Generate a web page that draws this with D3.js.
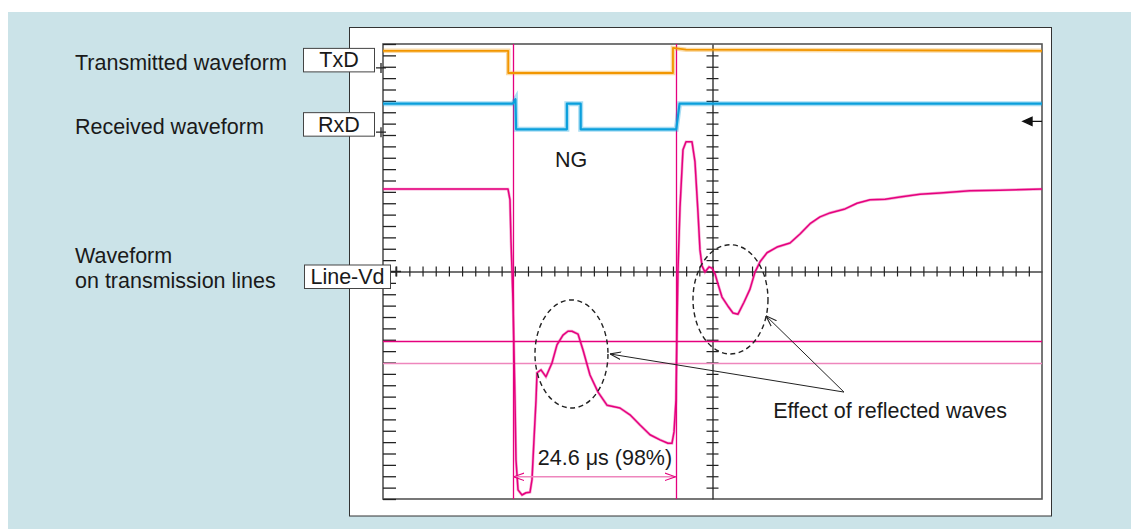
<!DOCTYPE html>
<html>
<head>
<meta charset="utf-8">
<script src="https://cdn.jsdelivr.net/npm/d3@7"></script>
<style>
  body { margin: 0; background: #fff; }
  svg { display: block; }
  .lbl { font-family: 'Liberation Sans', Arial, Helvetica, sans-serif; font-size: 21.5px; fill: #1a1a1a; }
</style>
</head>
<body>
<div id="scope"></div>
<script>
'use strict';

//DATA=======================================================
//time in microseconds (10 us / div), level in divisions from the centre line
let txdPoints = [[0, 3.88], [19.0, 3.88], [19.0, 3.49], [44.0, 3.49], [44.0, 3.93], [46.0, 3.90], [100, 3.88]];
let rxdPoints = [[0, 2.95], [19.7, 2.95], [20.1, 3.03], [20.2, 2.50], [27.9, 2.50], [27.9, 2.95], [30.0, 2.95],
  [30.0, 2.50], [44.5, 2.50], [45.0, 2.95], [100, 2.95]];
let lineVdPoints = [
  [0, 1.45], [18.97, 1.45], [19.27, 1.26], [19.42, 0.55], [19.58, 0.01], [19.73, -0.54], [20.03, -2.26],
  [20.18, -3.31], [20.49, -3.84], [21.09, -3.93], [21.70, -3.89], [22.31, -3.88], [22.61, -3.66],
  [22.91, -2.96], [23.22, -2.26], [23.37, -1.78], [23.98, -1.73], [24.73, -1.85], [25.64, -1.61],
  [26.40, -1.29], [27.31, -1.12], [28.07, -1.05], [28.68, -1.05], [29.59, -1.10], [30.35, -1.38],
  [31.41, -1.82], [32.63, -2.12], [33.99, -2.35], [35.96, -2.40], [37.48, -2.52], [39.00, -2.70],
  [40.52, -2.87], [42.03, -2.96], [43.25, -3.02], [43.85, -3.02], [44.16, -2.82], [44.46, -2.26],
  [44.61, -1.03], [44.76, 0.01], [45.07, 1.13], [45.52, 2.14], [45.98, 2.28], [46.89, 2.28],
  [47.34, 1.93], [47.80, 1.03], [48.10, 0.38], [48.41, 0.10], [48.86, -0.01], [49.47, 0.08],
  [49.92, 0.06], [50.38, -0.04], [50.83, -0.22], [51.44, -0.45], [52.35, -0.61], [53.11, -0.73],
  [53.87, -0.75], [54.78, -0.54], [55.69, -0.31], [56.45, -0.01], [57.21, 0.17], [58.27, 0.33],
  [59.79, 0.43], [61.76, 0.50], [63.28, 0.66], [64.80, 0.84], [66.31, 0.96], [67.83, 1.03],
  [70.11, 1.10], [71.93, 1.20], [73.90, 1.26], [76.18, 1.27], [78.45, 1.31], [81.49, 1.36],
  [84.52, 1.38], [89.07, 1.42], [93.63, 1.43], [100, 1.45]
];
let groundLevels = [3.58, 2.45, 0];          //TxD, RxD, Line-Vd "+" markers
let channelNames = ['TxD', 'RxD', 'Line-Vd'];
let timeCursors = [19.8, 44.4];              //24.6 us apart
let levelCursors = [-1.22, -1.61];
let triggerLevel = 2.64;
//reflected-wave ellipses: centre time, centre level, half width (us), half height (div)
let ellipses = [[28.6, -1.45, 5.54, 0.95], [52.73, -0.49, 5.69, 0.96]];
let calloutFrom = [69.95, -2.12];
let calloutTo = [[34.45, -1.45], [58.12, -0.78]];
let timeTicks = d3.range(0, 100.01, 2);
let levelTicks = d3.range(-4, 4.01, 0.2);
//DATA=======================================================

let width = 1131;
let height = 529;
let plot = { left: 383, top: 44, right: 1042, bottom: 499 };

let svg = d3.select('#scope').append('svg')
  .attr('width', width)
  .attr('height', height);

//background + white panel
svg.append('rect').attr('x', 8).attr('y', 12).attr('width', width - 8).attr('height', height - 12).attr('fill', '#cbe3e8');
svg.append('rect').attr('x', 349.5).attr('y', 27.5).attr('width', 702).attr('height', 488.5)
  .attr('fill', '#fff').attr('stroke', '#333').attr('stroke-width', 1);

let x = d3.scaleLinear().domain([0, 100]).range([plot.left, plot.right]);
let y = d3.scaleLinear().domain([-4, 4]).range([plot.bottom, plot.top]);

let defs = svg.append('defs');
function openArrow(id, color) {
  defs.append('marker')
    .attr('id', id)
    .attr('viewBox', '0 0 10 10')
    .attr('refX', 10).attr('refY', 5)
    .attr('markerUnits', 'userSpaceOnUse')
    .attr('markerWidth', 11).attr('markerHeight', 11)
    .attr('orient', 'auto-start-reverse')
    .append('path')
    .attr('d', 'M0,1.5 L10,5 L0,8.5')
    .attr('fill', 'none')
    .attr('stroke', color)
    .attr('stroke-width', 1);
}
openArrow('arrBlack', '#222');
openArrow('arrPink', '#e5007e');

//GRATICULE==================================================
svg.append('rect')
  .attr('x', plot.left).attr('y', plot.top)
  .attr('width', plot.right - plot.left).attr('height', plot.bottom - plot.top)
  .attr('fill', 'none').attr('stroke', '#555').attr('stroke-width', 1.6);

//left edge ticks
let leftAxis = d3.axisRight(y).tickValues(levelTicks).tickSize(13).tickSizeOuter(0).tickFormat('');
svg.append('g').attr('transform', `translate(${plot.left},0)`).call(leftAxis)
  .call(g => g.select('.domain').remove())
  .call(g => g.selectAll('line').attr('stroke', '#222').attr('stroke-width', 1.3));

//centre horizontal axis
let hAxis = d3.axisBottom(x).tickValues(timeTicks.slice(1, -1)).tickSize(5).tickSizeOuter(0).tickFormat('');
svg.append('g').attr('transform', `translate(0,${y(0)})`).call(hAxis)
  .call(g => g.select('.domain').attr('stroke', '#444').attr('stroke-width', 1.6))
  .call(g => g.selectAll('line').attr('y1', -5).attr('stroke', '#222').attr('stroke-width', 1.2));

//centre vertical axis
let vAxis = d3.axisRight(y).tickValues(levelTicks.slice(1, -1)).tickSize(6).tickSizeOuter(0).tickFormat('');
svg.append('g').attr('transform', `translate(${x(50)},0)`).call(vAxis)
  .call(g => g.select('.domain').attr('stroke', '#333').attr('stroke-width', 1.4))
  .call(g => g.selectAll('line').attr('x1', -6).attr('stroke', '#222').attr('stroke-width', 1.2));
//GRATICULE==================================================

//CURSORS====================================================
svg.selectAll('.tCursor').data(timeCursors).enter().append('line')
  .attr('class', 'tCursor')
  .attr('x1', d => Math.round(x(d)) + 0.5).attr('x2', d => Math.round(x(d)) + 0.5)
  .attr('y1', plot.top).attr('y2', plot.bottom)
  .attr('stroke', '#e5007e').attr('stroke-width', 1.3);

svg.selectAll('.lCursor').data(levelCursors).enter().append('line')
  .attr('class', 'lCursor')
  .attr('x1', plot.left).attr('x2', plot.right)
  .attr('y1', d => Math.round(y(d)) + 0.5).attr('y2', d => Math.round(y(d)) + 0.5)
  .attr('stroke', (d, i) => i === 0 ? '#e5007e' : '#ee86bd').attr('stroke-width', 1.3);
//CURSORS====================================================

//TRACES=====================================================
let line = d3.line().x(d => x(d[0])).y(d => y(d[1]));

function trace(points, color, fuzz, w) {
  svg.append('path').datum(points).attr('d', line)
    .attr('fill', 'none').attr('stroke', color).attr('stroke-width', fuzz).attr('opacity', 0.35);
  svg.append('path').datum(points).attr('d', line)
    .attr('fill', 'none').attr('stroke', color).attr('stroke-width', w).attr('stroke-linejoin', 'round');
}
trace(txdPoints, '#f29600', 4.5, 1.8);
trace(rxdPoints, '#0a9fdc', 5, 2.2);
trace(lineVdPoints, '#e5007e', 2.8, 1.5);
//TRACES=====================================================

//ANNOTATIONS================================================
svg.selectAll('.ring').data(ellipses).enter().append('ellipse')
  .attr('class', 'ring')
  .attr('cx', d => x(d[0])).attr('cy', d => y(d[1]))
  .attr('rx', d => x(d[2]) - x(0)).attr('ry', d => y(0) - y(d[3]))
  .attr('fill', 'none').attr('stroke', '#222').attr('stroke-width', 1.4)
  .attr('stroke-dasharray', '5,3.5');

svg.selectAll('.callout').data(calloutTo).enter().append('line')
  .attr('class', 'callout')
  .attr('x1', d => x(d[0])).attr('y1', d => y(d[1]))
  .attr('x2', x(calloutFrom[0])).attr('y2', y(calloutFrom[1]))
  .attr('stroke', '#222').attr('stroke-width', 1)
  .attr('marker-start', 'url(#arrBlack)');

svg.append('line')
  .attr('x1', x(timeCursors[0])).attr('x2', x(timeCursors[1]))
  .attr('y1', y(-3.61)).attr('y2', y(-3.61))
  .attr('stroke', '#ee86bd').attr('stroke-width', 1.4)
  .attr('marker-start', 'url(#arrPink)').attr('marker-end', 'url(#arrPink)');

svg.append('text').attr('class', 'lbl').attr('x', x(23.5)).attr('y', y(-3.40)).text('24.6 μs (98%)');
svg.append('text').attr('class', 'lbl').attr('x', x(59.2)).attr('y', y(-2.58)).text('Effect of reflected waves');
svg.append('text').attr('class', 'lbl').attr('x', x(26.1)).attr('y', y(1.84)).text('NG');

//trigger level marker on the right edge
let ty = y(triggerLevel);
svg.append('path')
  .attr('d', `M${plot.right - 19},${ty} L${plot.right - 10},${ty - 4} L${plot.right - 10},${ty + 4} Z M${plot.right - 10},${ty} L${plot.right},${ty}`)
  .attr('fill', '#111').attr('stroke', '#111').attr('stroke-width', 1.4);
//ANNOTATIONS================================================

//CHANNEL LABELS=============================================
let boxes = [
  { x: 303.5, w: 71, lvl: groundLevels[0], px: 381 },
  { x: 303.5, w: 71, lvl: groundLevels[1], px: 381 },
  { x: 304.5, w: 86, lvl: groundLevels[2], px: 396 }
];
boxes.forEach((b, i) => {
  let cy = y(b.lvl);
  let top = i === 2 ? cy - 6.5 : cy - 19.5;
  svg.append('rect').attr('x', b.x).attr('y', top).attr('width', b.w).attr('height', 23.5)
    .attr('fill', '#fff').attr('stroke', '#444').attr('stroke-width', 1);
  svg.append('text').attr('class', 'lbl').attr('x', b.x + b.w / 2).attr('y', top + 19)
    .attr('text-anchor', 'middle').text(channelNames[i]);
  svg.append('path')
    .attr('d', `M${b.px - 5},${cy} H${b.px + 5} M${b.px},${cy - 5} V${cy + 5}`)
    .attr('stroke', '#222').attr('stroke-width', 1.3);
});

let sideText = [['Transmitted waveform', 70], ['Received waveform', 134], ['Waveform', 263], ['on transmission lines', 288]];
svg.selectAll('.side').data(sideText).enter().append('text')
  .attr('class', 'lbl side')
  .attr('x', 75).attr('y', d => d[1])
  .text(d => d[0]);
//CHANNEL LABELS=============================================
</script>
</body>
</html>
